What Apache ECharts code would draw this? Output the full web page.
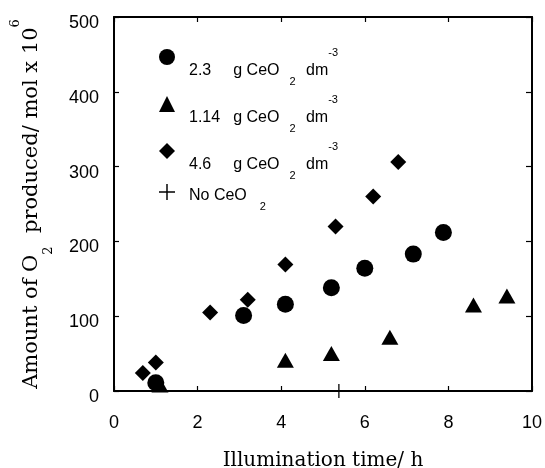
<!DOCTYPE html>
<html>
<head>
<meta charset="utf-8">
<script src="https://cdn.jsdelivr.net/npm/echarts@6/dist/echarts.min.js"></script>
<style>
  html, body { margin: 0; padding: 0; background: #fff; }
  #chart { width: 545px; height: 468px; }
</style>
</head>
<body>
<div id="chart"></div>
<script>
// O2 produced (mol x 10^6) vs illumination time (h)
const ceo2_23 = [[1.0, 11], [3.1, 101], [4.1, 116], [5.2, 138], [6.0, 164], [7.16, 183], [7.88, 212]];
const ceo2_114 = [[1.1, 8], [4.1, 41], [5.2, 50], [6.6, 72], [8.6, 115], [9.4, 127]];
const ceo2_46 = [[0.69, 24], [1.0, 38], [2.3, 105], [3.2, 122], [4.1, 169], [5.3, 220], [6.2, 260], [6.8, 306]];
const noCeo2 = [[5.38, 0]];

const seriesNames = ['2.3 g CeO2 dm-3', '1.14 g CeO2 dm-3', '4.6 g CeO2 dm-3', 'No CeO2'];
const doses = ['2.3', '1.14', '4.6'];
const xRange = [0, 10, 2];
const yRange = [0, 500, 100];

const plusPath = 'path://M5.45,0H6.55V5.45H12V6.55H6.55V12H5.45V6.55H0V5.45H5.45Z';
const sans = 'Liberation Sans';
const serif = 'DejaVu Serif';

// one legend per row so each row can sit where it sits in the figure
// token padding top/bottom pushes the glyph down/up
function makeLegend(name, top, label, gapAfter, mainPad, subPad) {
  let text;
  if (label) text = '{f|' + label + '}{g| }{t|g CeO}{sub|2}{t| dm}{sup|-3}';
  else text = '{f|No CeO}{sub|2}';
  return {
    data: [name],
    left: 159,
    top: top,
    padding: 0,
    itemWidth: 16,
    itemHeight: 16,
    selectedMode: false,
    formatter: () => text,
    textStyle: {
      color: '#000',
      fontFamily: sans,
      fontSize: 16,
      rich: {
        f: { fontSize: 16, fontFamily: sans, color: '#000', padding: [mainPad[0], 0, mainPad[1], 9] },
        g: { width: gapAfter, fontSize: 16, fontFamily: sans, padding: [mainPad[0], 0, mainPad[1], 0] },
        t: { fontSize: 16, fontFamily: sans, color: '#000', padding: [mainPad[0], 0, mainPad[1], 0] },
        sub: { fontSize: 11, fontFamily: sans, color: '#000', padding: [subPad, 6, 0, label ? 10 : 13] },
        sup: { fontSize: 11, fontFamily: sans, color: '#000', padding: [0, 0, 9, 0] }
      }
    }
  };
}

function axisBase(range, showLabel) {
  return {
    type: 'value',
    min: range[0],
    max: range[1],
    interval: range[2],
    splitLine: { show: false },
    axisLine: { show: true, onZero: false, lineStyle: { color: '#000', width: 2 } },
    axisTick: { show: true, inside: true, length: 5, lineStyle: { color: '#000', width: 1.2 } },
    axisLabel: { show: showLabel, color: '#000', fontFamily: sans, fontSize: 18 }
  };
}

const chart = echarts.init(document.getElementById('chart'));

const xMain = axisBase(xRange, true);
xMain.position = 'bottom';
xMain.axisLabel.margin = 23;
xMain.name = 'Illumination time/ h';
xMain.nameLocation = 'middle';
xMain.nameGap = 60;
xMain.nameTextStyle = { color: '#000', fontFamily: serif, fontSize: 20 };

const xTop = axisBase(xRange, false);
xTop.position = 'top';

const yMain = axisBase(yRange, true);
yMain.position = 'left';
yMain.axisLabel.margin = 15;
yMain.axisLabel.formatter = v => '{v|' + v + '}';
yMain.axisLabel.rich = { v: { fontSize: 18, fontFamily: sans, color: '#000', padding: [12, 0, 0, 0] } };
yMain.name = '{m|Amount of O}{s|2}{m|  produced/ mol x 10}{p|6}';
yMain.nameLocation = 'middle';
yMain.nameGap = 59;
yMain.nameTextStyle = {
  color: '#000',
  fontFamily: serif,
  rich: {
    m: { fontSize: 21, fontFamily: serif, color: '#000', lineHeight: 46, verticalAlign: 'middle' },
    s: { fontSize: 13, fontFamily: serif, color: '#000', lineHeight: 12, verticalAlign: 'bottom' },
    p: { fontSize: 13, fontFamily: serif, color: '#000', lineHeight: 12, verticalAlign: 'top' }
  }
};

const yRight = axisBase(yRange, false);
yRight.position = 'right';
yRight.axisTick.length = 6;

const dot = { color: '#000', opacity: 1 };

const option = {
  backgroundColor: '#fff',
  animation: false,
  grid: { left: 114, right: 13, top: 17, bottom: 77, containLabel: false, outerBoundsMode: 'none' },
  legend: [
    makeLegend(seriesNames[0], 47, doses[0], 22, [27, 0], 49),
    makeLegend(seriesNames[1], 94, doses[1], 13, [27, 0], 49),
    makeLegend(seriesNames[2], 141, doses[2], 22, [27, 0], 49),
    makeLegend(seriesNames[3], 184, null, 0, [8, 0], 30)
  ],
  xAxis: [xMain, xTop],
  yAxis: [yMain, yRight],
  series: [
    {
      name: seriesNames[1],
      type: 'scatter',
      data: ceo2_114,
      symbol: 'triangle',
      symbolSize: [17, 15],
      itemStyle: dot
    },
    {
      name: seriesNames[0],
      type: 'scatter',
      data: ceo2_23,
      symbol: 'circle',
      symbolSize: 17,
      itemStyle: dot
    },
    {
      name: seriesNames[2],
      type: 'scatter',
      data: ceo2_46,
      symbol: 'diamond',
      symbolSize: [16, 16],
      itemStyle: dot
    },
    {
      name: seriesNames[3],
      type: 'scatter',
      data: noCeo2,
      symbol: plusPath,
      symbolSize: 14,
      itemStyle: dot
    }
  ]
};

chart.setOption(option);
</script>
</body>
</html>
